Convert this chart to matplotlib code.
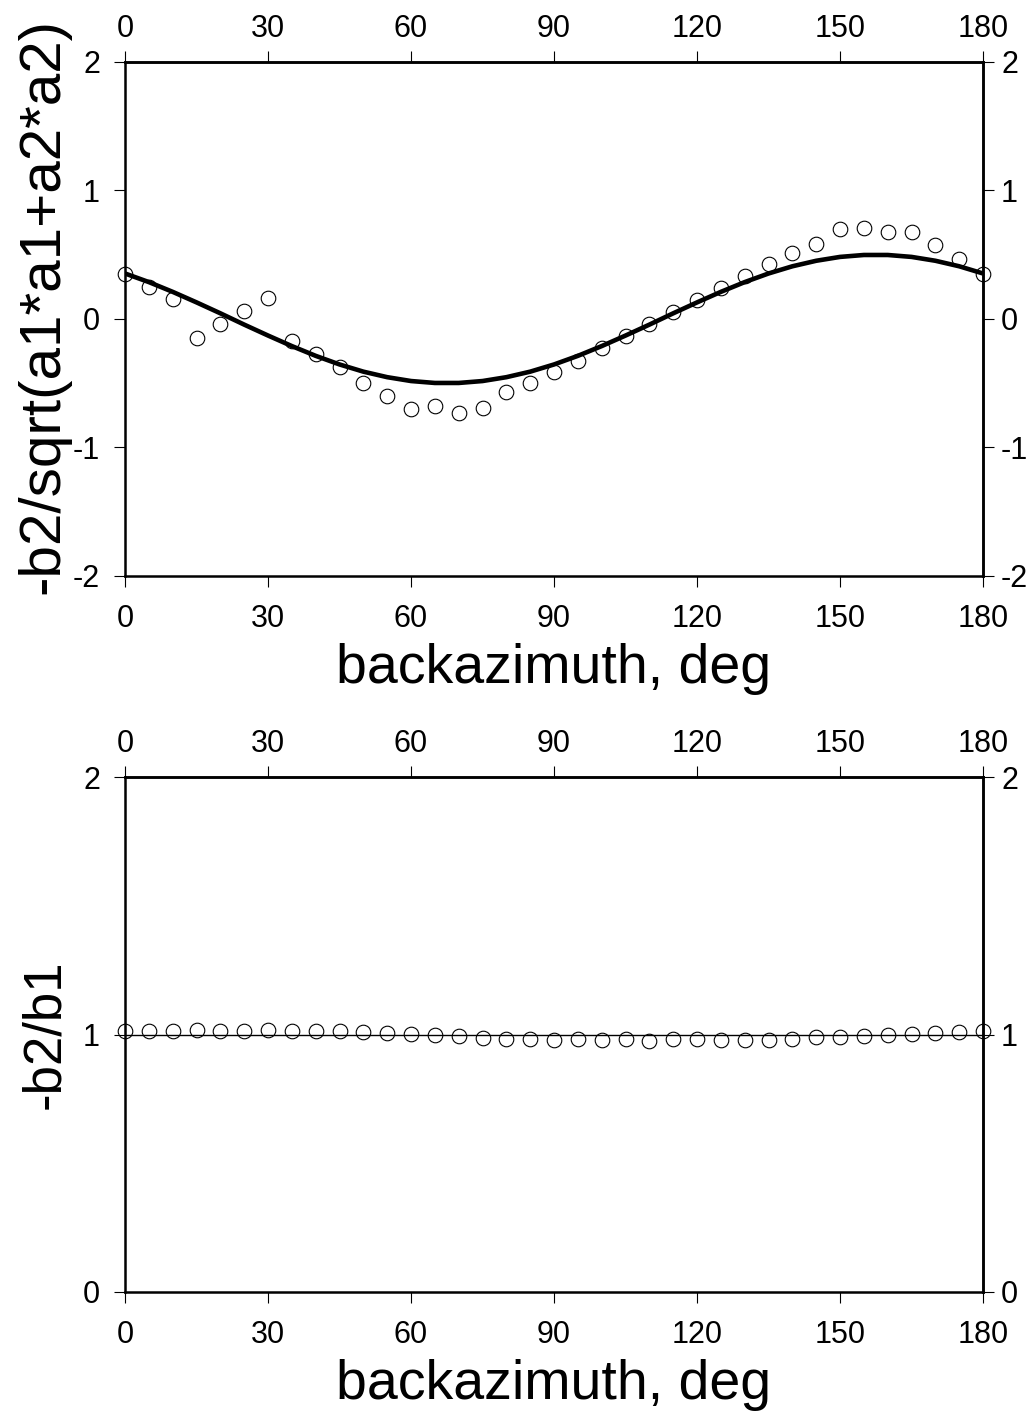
import numpy as np
import matplotlib
matplotlib.use("Agg")
import matplotlib.pyplot as plt

plt.rcParams['font.family'] = ['Liberation Sans', 'DejaVu Sans']
plt.rcParams['axes.unicode_minus'] = False

# data
baz = list(range(0, 181, 5))

# top panel: measured -b2/sqrt(a1*a1+a2*a2)
ratio_a = [0.35, 0.25, 0.155, -0.15, -0.04, 0.06, 0.165, -0.17, -0.27, -0.375,
           -0.50, -0.60, -0.70, -0.68, -0.73, -0.69, -0.57, -0.50, -0.41, -0.33,
           -0.225, -0.13, -0.04, 0.055, 0.15, 0.24, 0.335, 0.43, 0.51, 0.585,
           0.70, 0.71, 0.68, 0.68, 0.575, 0.465, 0.35]
# top panel: fitted curve
fit_a = [0.354, 0.287, 0.211, 0.129, 0.044, -0.044, -0.129, -0.211, -0.287, -0.354,
         -0.410, -0.453, -0.483, -0.498, -0.498, -0.483, -0.453, -0.410, -0.354, -0.287,
         -0.211, -0.129, -0.044, 0.044, 0.129, 0.211, 0.287, 0.354, 0.410, 0.453,
         0.483, 0.498, 0.498, 0.483, 0.453, 0.410, 0.354]

# bottom panel: measured -b2/b1
ratio_b = [1.014, 1.014, 1.014, 1.017, 1.012, 1.012, 1.017, 1.014, 1.013, 1.013,
           1.009, 1.005, 1.003, 0.997, 0.995, 0.987, 0.984, 0.982, 0.978, 0.981,
           0.979, 0.981, 0.973, 0.981, 0.981, 0.979, 0.979, 0.979, 0.982, 0.990,
           0.991, 0.995, 0.999, 1.003, 1.006, 1.009, 1.014]
fit_b = [1.0, 1.0]
fit_b_x = [0, 180]

xticks = [0, 30, 60, 90, 120, 150, 180]


def style(ax, ylim, yticks, ylabel, ylabel_size, ylabel_y):
    ax.set_xlim(0, 180)
    ax.set_ylim(*ylim)
    ax.set_xticks(xticks)
    ax.set_yticks(yticks)
    ax.set_yticklabels([str(t) for t in yticks])
    ax.tick_params(direction='out', length=8, width=0.8, labelsize=22,
                   top=False, right=False)
    ax.tick_params(axis='x', pad=12)
    ax.tick_params(axis='y', pad=10)
    for s in ax.spines.values():
        s.set_linewidth(1.8)
    ax.set_xlabel("backazimuth, deg", fontsize=40, labelpad=7)
    ax.set_ylabel(ylabel, fontsize=ylabel_size)
    ax.yaxis.set_label_coords(-0.064, ylabel_y)

    # top and right axes carry their own labels
    top = ax.secondary_xaxis('top')
    top.set_xticks(xticks)
    top.tick_params(direction='out', length=8, width=0.8, labelsize=22, pad=5)
    right = ax.secondary_yaxis('right')
    right.set_yticks(yticks)
    right.set_yticklabels([str(t) for t in yticks])
    right.tick_params(direction='out', length=8, width=0.8, labelsize=22, pad=5)
    for sec in (top, right):
        for s in sec.spines.values():
            s.set_linewidth(1.8)


fig = plt.figure(figsize=(10.36, 14.12), dpi=100)
ax1 = fig.add_axes([0.1207, 0.5921, 0.8282, 0.3640])
ax2 = fig.add_axes([0.1207, 0.0850, 0.8282, 0.3647])

ax1.plot(baz, fit_a, color='black', lw=3.3, solid_capstyle='butt', zorder=2)
ax1.plot(baz, ratio_a, 'o', mfc='none', mec='black', ms=10.5, mew=0.8,
         clip_on=False, zorder=3)
style(ax1, (-2, 2), [-2, -1, 0, 1, 2], "-b2/sqrt(a1*a1+a2*a2)", 42, 0.525)

ax2.plot(fit_b_x, fit_b, color='black', lw=1.0, zorder=2)
ax2.plot(baz, ratio_b, 'o', mfc='none', mec='black', ms=10.5, mew=0.8,
         clip_on=False, zorder=3)
style(ax2, (0, 2), [0, 1, 2], "-b2/b1", 38, 0.5)

fig.savefig("out.png", dpi=100)
